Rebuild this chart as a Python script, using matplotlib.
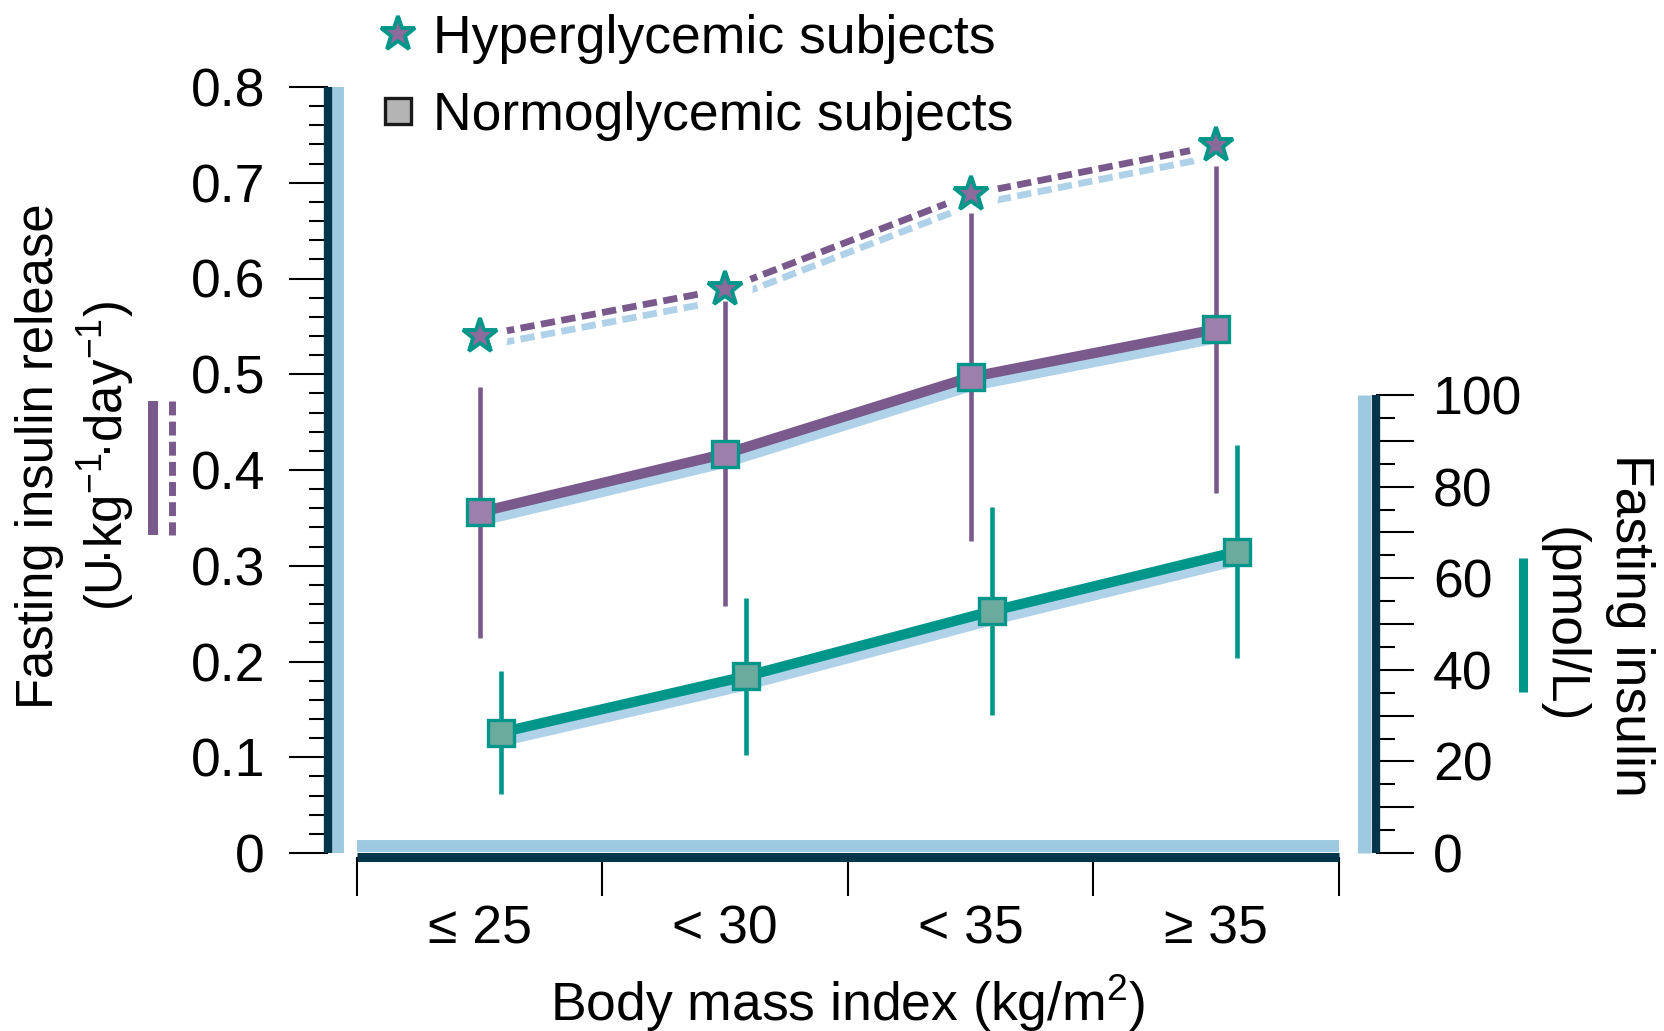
import matplotlib
matplotlib.use('Agg')
import matplotlib.pyplot as plt
import matplotlib.transforms as mtransforms
from matplotlib.lines import Line2D
from matplotlib.ticker import MultipleLocator, FixedLocator, FixedFormatter, FuncFormatter, NullFormatter
import numpy as np

# ---------------- data ----------------
categories = ['≤ 25', '< 30', '< 35', '≥ 35']
hyper_release = [0.54, 0.589, 0.688, 0.739]          # left axis, stars, dashed
normo_release = [0.356, 0.417, 0.497, 0.547]         # left axis, squares, solid
normo_release_err = [0.131, 0.159, 0.171, 0.171]
normo_insulin = [26.3, 38.6, 52.8, 65.8]             # right axis, pmol/L
normo_insulin_err = [13.4, 17.1, 22.7, 23.2]
left_ticks = [0, 0.1, 0.2, 0.3, 0.4, 0.5, 0.6, 0.7, 0.8]
right_ticks = [0, 10, 20, 30, 40, 50, 60, 70, 80, 90, 100]

# ---------------- style ----------------
plt.rcParams['font.family'] = ['Liberation Sans', 'DejaVu Sans']
plt.rcParams['mathtext.fontset'] = 'custom'
plt.rcParams['mathtext.rm'] = 'Liberation Sans'
plt.rcParams['mathtext.sf'] = 'Liberation Sans'
plt.rcParams['mathtext.it'] = 'Liberation Sans:italic'
plt.rcParams['mathtext.bf'] = 'Liberation Sans:bold'
plt.rcParams['mathtext.default'] = 'regular'

FS = 38.5
FS_LEFT = 36.6
purple = '#7a5a8c'
purple_sq = '#9d7fac'
star_face = '#8a6b9c'
teal = '#00968a'
green_sq = '#6aab9e'
shadow = '#afd2e8'
strip = '#9ecae1'
dark = '#04364b'

W, H = 1665, 1031
fig = plt.figure(figsize=(W / 100, H / 100), dpi=100)
L, R, T, B = 357, 1339, 87, 853
ax = fig.add_axes([L / W, 1 - B / H, (R - L) / W, (B - T) / H])
ax2 = ax.twinx()

x = np.arange(len(categories))
xg = x + 0.085

def off(trans, dx=0, dy=0):
    return mtransforms.offset_copy(trans, fig=fig, x=dx, y=dy, units='dots')

LW = 7.4
STAR_MS = 26
SQ_MS = 19
ELW = 3.3

# ---- hyperglycemic (dashed + stars) on left axis ----
dash = (0, (2.1, 0.95))
ax.plot(x, hyper_release, ls=dash, lw=4.9, color=shadow, dash_capstyle='butt',
        transform=off(ax.transData, 0, -11), zorder=2)
ax.plot(x, hyper_release, ls=dash, lw=4.9, color=purple, dash_capstyle='butt', zorder=3)
ax.plot(x, hyper_release, 'o', ms=39, mfc='white', mec='none', zorder=4)

# ---- normoglycemic release (solid + squares) on left axis ----
ax.plot(x, normo_release, lw=LW, color=shadow, solid_capstyle='butt',
        transform=off(ax.transData, 0, -9), zorder=2)
ax.plot(x, normo_release, lw=LW, color=purple, solid_capstyle='butt', zorder=3)
ax.errorbar(x, normo_release, yerr=normo_release_err, fmt='none', ecolor=purple,
            elinewidth=ELW, capsize=0, zorder=5)
ax.plot(x, normo_release, 's', ms=SQ_MS, mfc=purple_sq, mec=teal, mew=2.4, zorder=6)
ax.plot(x, hyper_release, '*', ms=STAR_MS, mfc=star_face, mec=teal, mew=2.8, zorder=7)

# ---- normoglycemic fasting insulin on right axis ----
ax2.plot(xg, normo_insulin, lw=LW, color=shadow, solid_capstyle='butt',
         transform=off(ax2.transData, 0, -9), zorder=2)
ax2.plot(xg, normo_insulin, lw=LW, color=teal, solid_capstyle='butt', zorder=3)
ax2.errorbar(xg, normo_insulin, yerr=normo_insulin_err, fmt='none', ecolor=teal,
             elinewidth=ELW, capsize=0, zorder=5)
ax2.plot(xg, normo_insulin, 's', ms=SQ_MS, mfc=green_sq, mec=teal, mew=2.4, zorder=6)

# ---------------- axes ----------------
ax.set_xlim(-0.5, len(categories) - 0.5)
ax.set_ylim(0, 0.8)
ax2.set_ylim(0, (B - T) / 4.58)

for s in ['top', 'right']:
    ax.spines[s].set_visible(False)
for s in ['top', 'left', 'bottom']:
    ax2.spines[s].set_visible(False)

ax.spines['left'].set_position(('outward', 21.2))
ax.spines['left'].set_linewidth(6.0)
ax.spines['left'].set_color(dark)
ax.spines['left'].set_bounds(0, 0.8)
ax.spines['left'].set_capstyle('butt')
ax.spines['bottom'].set_position(('outward', 2.9))
ax.spines['bottom'].set_linewidth(6.5)
ax.spines['bottom'].set_color(dark)
ax.spines['bottom'].set_capstyle('butt')
ax2.spines['right'].set_position(('outward', 26.3))
ax2.spines['right'].set_linewidth(6.0)
ax2.spines['right'].set_color(dark)
ax2.spines['right'].set_bounds(0, 100)
ax2.spines['right'].set_capstyle('butt')

# light blue strips next to the spines
ax.plot([0, 0], [0, 0.8], transform=off(ax.get_yaxis_transform(), -19, 0),
        lw=8.6, color=strip, solid_capstyle='butt', clip_on=False, zorder=1)
ax.plot([-0.5, len(categories) - 0.5], [0, 0], transform=off(ax.get_xaxis_transform(), 0, 7),
        lw=8.6, color=strip, solid_capstyle='butt', clip_on=False, zorder=1)
ax2.plot([1, 1], [0, 100], transform=off(ax2.get_yaxis_transform(), 25.5, 0),
         lw=9.4, color=strip, solid_capstyle='butt', clip_on=False, zorder=1)

# left ticks
ax.yaxis.set_major_locator(FixedLocator(left_ticks))
ax.yaxis.set_minor_locator(MultipleLocator(0.02))
ax.yaxis.set_major_formatter(FuncFormatter(lambda v, p: '0' if abs(v) < 1e-9 else f'{v:.1f}'))
ax.tick_params(axis='y', which='major', direction='out', length=28.4, width=1.5,
               labelsize=FS, pad=16.6, color='black')
ax.tick_params(axis='y', which='minor', direction='out', length=14, width=1.5, color='black')

# bottom ticks
ax.xaxis.set_major_locator(FixedLocator(np.arange(len(categories) + 1) - 0.5))
ax.xaxis.set_major_formatter(NullFormatter())
ax.xaxis.set_minor_locator(FixedLocator(x))
ax.xaxis.set_minor_formatter(FixedFormatter(categories))
ax.tick_params(axis='x', which='major', direction='out', length=28, width=1.5, color='black')
ax.tick_params(axis='x', which='minor', length=0, labelsize=FS, pad=34)

# right ticks
ax2.yaxis.set_major_locator(FixedLocator(right_ticks))
ax2.yaxis.set_minor_locator(FixedLocator([t + 5 for t in right_ticks[:-1]]))
ax2.yaxis.set_major_formatter(FuncFormatter(lambda v, p: f'{int(round(v))}' if int(round(v)) % 20 == 0 else ''))
ax2.tick_params(axis='y', which='major', direction='out', length=27.7, width=1.5,
                labelsize=FS, pad=13.7, color='black')
ax2.tick_params(axis='y', which='minor', direction='out', length=14, width=1.5, color='black')

# ---------------- labels ----------------
fig.text(848 / W, 1 - 1003 / H, 'Body mass index (kg/m$^2$)', ha='center', va='center', fontsize=FS)
fig.text(40 / W, 1 - 456 / H, 'Fasting insulin release', rotation=90, ha='center', va='center', fontsize=FS_LEFT)
fig.text(106 / W, 1 - 456 / H, '(U$\\!$·kg$^{-1}$$\\!$·day$^{-1}$)', rotation=90,
         ha='center', va='center', fontsize=FS_LEFT)
fig.text(1630 / W, 1 - 625 / H, 'Fasting insulin', rotation=-90, ha='center', va='center', fontsize=FS)
fig.text(1563 / W, 1 - 625 / H, '(pmol/L)', rotation=-90, ha='center', va='center', fontsize=FS)

# axis-label line keys
fig.add_artist(Line2D([153 / W, 153 / W], [1 - 401 / H, 1 - 535 / H], lw=7.2, color=purple,
                      solid_capstyle='butt', transform=fig.transFigure))
fig.add_artist(Line2D([172.5 / W, 172.5 / W], [1 - 401 / H, 1 - 535 / H], lw=5.0, color=purple,
                      ls=(0, (2.0, 0.9)), dash_capstyle='butt', transform=fig.transFigure))
fig.add_artist(Line2D([1523.5 / W, 1523.5 / W], [1 - 558 / H, 1 - 692 / H], lw=6.5, color=teal,
                      solid_capstyle='butt', transform=fig.transFigure))

# ---------------- legend ----------------
handles = [Line2D([], [], marker='*', ms=STAR_MS, mfc=star_face, mec=teal, mew=2.8, ls='none'),
           Line2D([], [], marker='s', ms=SQ_MS, mfc='#b4b4b4', mec='#1a1a1a', mew=2.4, ls='none')]
ax.legend(handles, ['Hyperglycemic subjects', 'Normoglycemic subjects'], loc='upper left',
          bbox_to_anchor=(382 / W, 1 - 14 / H), bbox_transform=fig.transFigure,
          frameon=False, fontsize=FS, handlelength=0.6, handletextpad=0.36,
          labelspacing=0.5, borderaxespad=0, borderpad=0)

fig.savefig('out.png', dpi=100)
